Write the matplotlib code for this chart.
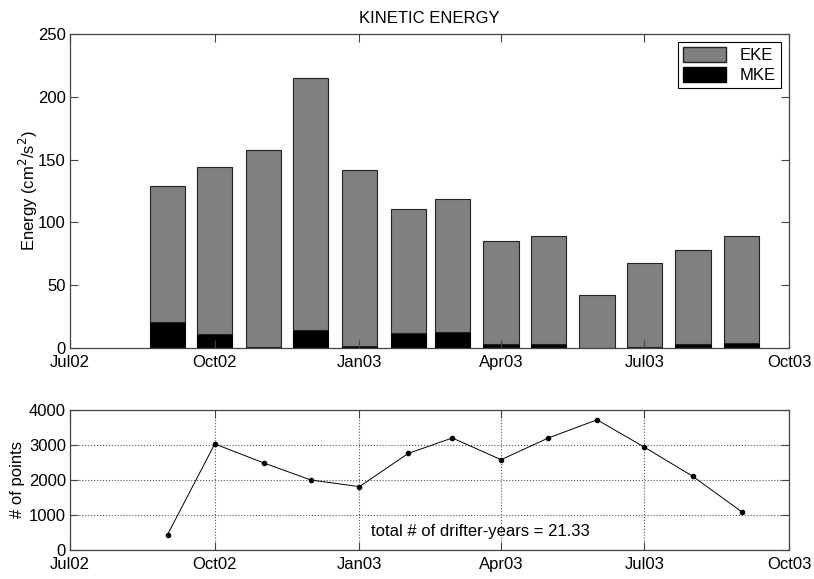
import matplotlib
matplotlib.use("Agg")
import matplotlib.pyplot as plt
import matplotlib.dates as mdates
from matplotlib.patches import Patch
import datetime as dt

plt.rcParams['font.family'] = ['Liberation Sans', 'DejaVu Sans']
plt.rcParams['font.size'] = 12

# ---- data ----
months = ["2002-09-01", "2002-10-01", "2002-11-01", "2002-12-01", "2003-01-01",
          "2003-02-01", "2003-03-01", "2003-04-01", "2003-05-01", "2003-06-01",
          "2003-07-01", "2003-08-01", "2003-09-01"]
mke = [20.5, 11.5, 0.5, 14.5, 1.5, 12.0, 12.5, 3.0, 3.5, 0.3, 0.5, 3.5, 4.0]
eke = [108.5, 132.5, 157.0, 200.5, 140.5, 98.5, 106.5, 82.0, 86.0, 42.2, 67.0, 74.5, 85.0]
npoints = [440, 3030, 2490, 2000, 1810, 2760, 3200, 2580, 3200, 3720, 2940, 2100, 1090]
tick_dates = ["2002-07-01", "2002-10-01", "2003-01-01", "2003-04-01", "2003-07-01", "2003-10-01"]
tick_labels = ["Jul02", "Oct02", "Jan03", "Apr03", "Jul03", "Oct03"]
total_years = 21.33

dates = [dt.datetime.strptime(d, "%Y-%m-%d") for d in months]
tdates = [dt.datetime.strptime(d, "%Y-%m-%d") for d in tick_dates]
x = mdates.date2num(dates)
xt = mdates.date2num(tdates)

spine_col = '#444444'

fig = plt.figure(figsize=(8.14, 5.79), dpi=100)
ax1 = fig.add_axes([0.086, 0.399, 0.8833, 0.5423])
ax2 = fig.add_axes([0.086, 0.0501, 0.8833, 0.2418])

def style(ax):
    for s in ax.spines.values():
        s.set_color(spine_col)
        s.set_linewidth(0.9)
    ax.tick_params(direction='in', length=6, width=0.8, color=spine_col,
                   top=True, right=True, labelsize=12)
    ax.tick_params(axis='x', pad=5)
    ax.tick_params(axis='y', pad=3)

# ---- top: stacked bars ----
width = 22.4
ax1.bar(x, mke, width=width, color='black', edgecolor='black', linewidth=0.8)
ax1.bar(x, eke, width=width, bottom=mke, color='#808080', edgecolor='#222222', linewidth=0.8)
ax1.set_xlim(xt[0], xt[-1])
ax1.set_ylim(0, 250)
ax1.set_yticks([0, 50, 100, 150, 200, 250])
ax1.set_xticks(xt)
ax1.set_xticklabels(tick_labels)
ax1.set_title("KINETIC ENERGY", fontsize=12, pad=8)
ax1.set_ylabel("Energy (cm$^2$/s$^2$)")
ax1.yaxis.set_label_coords(-0.042, 0.5)
style(ax1)
handles = [Patch(facecolor='#808080', edgecolor='#222222', label='EKE'),
           Patch(facecolor='black', edgecolor='black', label='MKE')]
leg = ax1.legend(handles=handles, loc='upper right', fancybox=False, framealpha=1,
                 edgecolor='black', handlelength=2.6, handleheight=1.0,
                 borderaxespad=0.5, labelspacing=0.2, fontsize=12,
                 borderpad=0.3)
leg.get_frame().set_linewidth(0.8)

# ---- bottom: number of points ----
ax2.plot(x, npoints, color='black', linewidth=0.7, marker='o', markersize=3)
ax2.set_xlim(xt[0], xt[-1])
ax2.set_ylim(0, 4000)
ax2.set_yticks([0, 1000, 2000, 3000, 4000])
ax2.set_xticks(xt)
ax2.set_xticklabels(tick_labels)
ax2.grid(True, linestyle=':', color='#555555', linewidth=0.8)
ax2.set_ylabel("# of points")
ax2.yaxis.set_label_coords(-0.0626, 0.5)
ax2.text(0.571, 0.13, f"total # of drifter-years = {total_years:.2f}",
         transform=ax2.transAxes, ha='center', va='center', fontsize=12)
style(ax2)

fig.savefig("out.png", dpi=100)
